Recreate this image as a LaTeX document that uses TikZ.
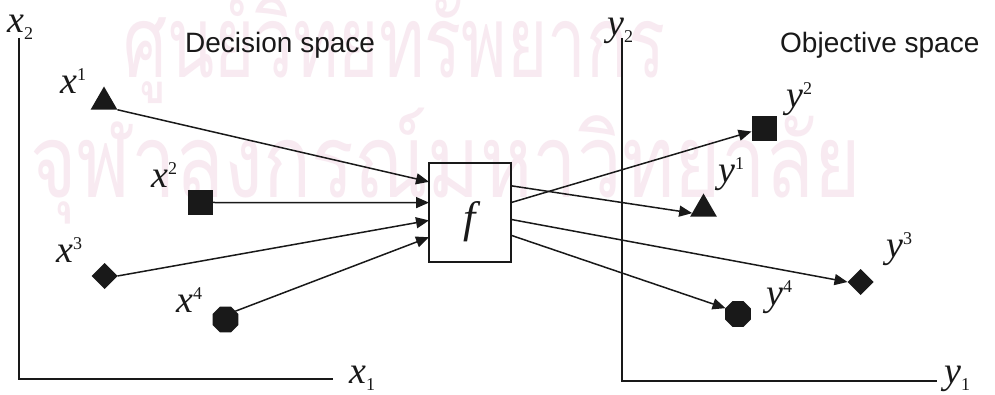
\documentclass[tikz,border=0pt]{standalone}
\usepackage{fontspec}
\setmainfont{Liberation Sans}
\newfontfamily\tnr{Liberation Serif}
\newfontfamily\thaifont[Script=Thai,FakeStretch=0.75]{Loma}
\usetikzlibrary{arrows.meta,shapes.geometric,calc}
\definecolor{wm}{RGB}{248,234,241}
\definecolor{ink}{RGB}{25,25,25}
\newcommand\mvar[1]{{\tnr\fontsize{38}{38}\selectfont\itshape #1}}
\newcommand\mfun[1]{{\tnr\fontsize{44}{44}\selectfont\itshape #1}}
\newcommand\msup[1]{\raisebox{13pt}{\tnr\fontsize{18}{18}\selectfont #1}}
\newcommand\msub[1]{\raisebox{-7pt}{\tnr\fontsize{18}{18}\selectfont #1}}
\begin{document}
\begin{tikzpicture}[x=1pt,y=-1pt,
  ink,
  marker/.style={fill=ink, draw=none, inner sep=0pt, outer sep=0pt},
  tri/.style={marker, regular polygon, regular polygon sides=3, minimum size=31pt},
  sq/.style={marker, rectangle, minimum size=25pt},
  dia/.style={marker, diamond, minimum size=26pt},
  oct/.style={marker, regular polygon, regular polygon sides=8, minimum size=28pt},
  lab/.style={inner sep=0pt, anchor=base west},
  conn/.style={line width=1.5pt, -{Triangle[length=13pt,width=11pt]}},
  axis/.style={line width=1.2pt},
  fbox/.style={draw, line width=1.3pt, minimum width=82pt, minimum height=99pt, inner sep=0pt, outer sep=0pt},
  wmark/.style={text=wm, inner sep=0pt, anchor=base west, font=\thaifont\fontsize{100}{100}\selectfont},
  title/.style={inner sep=0pt, anchor=base west, font=\fontsize{28}{28}\selectfont}
]
\useasboundingbox[fill=white] (0,0) rectangle (995,395);
% watermark
\node[wmark] (wm1) at (123,78) {\scalebox{0.92}[1]{ศูนย์วิทยทรัพยากร}};
\node[wmark] (wm2) at (30,198) {\scalebox{1.06}[1.02]{จุฬาลงกรณ์มหาวิทยาลัย}};
% titles
\node[title] (ds) at (185,53) {Decision space};
\node[title] (os) at (780,53) {Objective space};
% axes
\coordinate (ox) at (19,379);
\coordinate (x1end) at (333,379);
\coordinate (x2end) at (19,38);
\draw[axis] (x2end) -- (ox) -- (x1end);
\coordinate (oy) at (622,381);
\coordinate (y1end) at (937,381);
\coordinate (y2end) at (622,38);
\draw[axis] (y2end) -- (oy) -- (y1end);
\node[lab] (lx2) at (7,33) {\mvar{x}\msub{2}};
\node[lab] (lx1) at (349,383) {\mvar{x}\msub{1}};
\node[lab] (ly2) at (607,36) {\mvar{y}\msub{2}};
\node[lab] (ly1) at (944,383) {\mvar{y}\msub{1}};
% function box
\node[fbox] (f) at (470,212.5) {};
\node[inner sep=0pt] (ft) at (470,222) {\mfun{f}};
% markers
\node[tri] (x1) at (104,102) {};
\node[sq]  (x2) at (200.5,202.5) {};
\node[dia] (x3) at (104.5,276) {};
\node[oct] (x4) at (225.5,319.5) {};
\node[tri] (y1) at (703.5,209) {};
\node[sq]  (y2) at (764,129) {};
\node[dia] (y3) at (860.5,282) {};
\node[oct] (y4) at (738,314) {};
% labels
\node[lab] (lx1s) at (60,94) {\mvar{x}\msup{1}};
\node[lab] (lx2s) at (151,188) {\mvar{x}\msup{2}};
\node[lab] (lx3s) at (56,262) {\mvar{x}\msup{3}};
\node[lab] (lx4s) at (176,312) {\mvar{x}\msup{4}};
\node[lab] (ly1s) at (718,183) {\mvar{y}\msup{1}};
\node[lab] (ly2s) at (786,108) {\mvar{y}\msup{2}};
\node[lab] (ly3s) at (886,258) {\mvar{y}\msup{3}};
\node[lab] (ly4s) at (766,305) {\mvar{y}\msup{4}};
% connectors into f
\draw[conn] (x1.corner 3) -- ($(f.north west)!0.19!(f.south west)$);
\draw[conn] (x2.east) -- ($(f.north west)!0.40!(f.south west)$);
\draw[conn] (x3.east) -- ($(f.north west)!0.58!(f.south west)$);
\draw[conn] (x4.40) -- ($(f.north west)!0.75!(f.south west)$);
% connectors out of f
\draw[conn] ($(f.north east)!0.40!(f.south east)$) -- ($(y2.north west)!0.6!(y2.south west)$);
\draw[conn] ($(f.north east)!0.23!(f.south east)$) -- (y1.200);
\draw[conn] ($(f.north east)!0.57!(f.south east)$) -- (y3.west);
\draw[conn] ($(f.north east)!0.73!(f.south east)$) -- (y4.155);
\end{tikzpicture}
\end{document}
